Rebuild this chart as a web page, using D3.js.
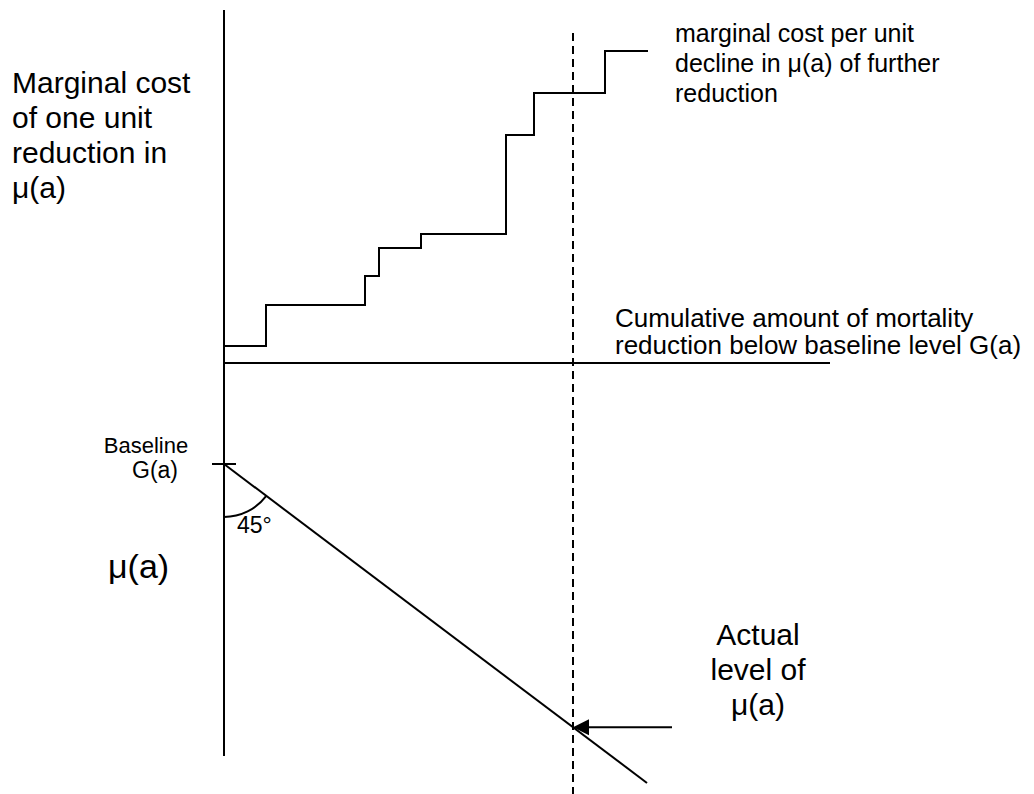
<!DOCTYPE html>
<html>
<head>
<meta charset="utf-8">
<script src="https://cdn.jsdelivr.net/npm/d3@7"></script>
<style>
  body { margin: 0; background: #fff; }
  text { font-family: "Liberation Sans", Arial, sans-serif; fill: #000; }
</style>
</head>
<body>
<div id="chart"></div>
<script>
// Step schedule: cumulative reduction where each step starts, and its marginal cost
var stepStarts = [0, 42, 141, 155, 197, 282, 310, 381];
var stepEnds   = [42, 141, 155, 197, 282, 310, 381, 424];
var stepCosts  = [17, 58, 87, 115, 129, 228, 270, 312];

// Reduction chosen (dashed line) and extent of the lower 45 degree line
var actualReduction = 349;
var diagonalEnd = 423;
var axisEnd = 606;

var leftLabel = ["Marginal cost", "of one unit", "reduction in", "\u03bc(a)"];
var curveLabel = ["marginal cost per unit", "decline in \u03bc(a) of further", "reduction"];
var xLabel = ["Cumulative amount of mortality", "reduction below baseline level G(a)"];
var actualLabel = ["Actual", "level of", "\u03bc(a)"];

const width = 1034, height = 794;

var svg = d3.select("#chart").append("svg")
    .attr("width", width)
    .attr("height", height);

// Scales: same x for both panels
const x = d3.scaleLinear().domain([0, axisEnd]).range([224, 830]);
const yCost = d3.scaleLinear().domain([0, 353]).range([363, 10]);
// lower panel: distance below baseline G(a)
const yMu = d3.scaleLinear().domain([0, diagonalEnd]).range([464, 464 + 0.754 * diagonalEnd]);

// Vertical axis
svg.append("line")
    .attr("x1", x(0)).attr("x2", x(0))
    .attr("y1", yCost(353)).attr("y2", 756)
    .attr("stroke", "#000").attr("stroke-width", 2);

// Horizontal axis (cumulative reduction)
svg.append("line")
    .attr("x1", x(0)).attr("x2", x(axisEnd))
    .attr("y1", yCost(0)).attr("y2", yCost(0))
    .attr("stroke", "#000").attr("stroke-width", 2);

// Step function of marginal cost
var stepPts = [];
stepCosts.forEach(function (c, i) {
    stepPts.push([stepStarts[i], c]);
    stepPts.push([stepEnds[i], c]);
});
svg.append("path")
    .datum(stepPts)
    .attr("fill", "none")
    .attr("stroke", "#000")
    .attr("stroke-width", 2)
    .attr("d", d3.line().x(d => x(d[0])).y(d => yCost(d[1])));

// Dashed line at actual reduction
svg.append("line")
    .attr("x1", x(actualReduction)).attr("x2", x(actualReduction))
    .attr("y1", 33).attr("y2", height)
    .attr("stroke", "#000").attr("stroke-width", 2)
    .attr("stroke-dasharray", "8,5");

// Baseline tick
svg.append("line")
    .attr("x1", x(0) - 12).attr("x2", x(0) + 12)
    .attr("y1", yMu(0)).attr("y2", yMu(0))
    .attr("stroke", "#000").attr("stroke-width", 2);

// 45 degree line
svg.append("line")
    .attr("x1", x(0)).attr("y1", yMu(0))
    .attr("x2", x(diagonalEnd)).attr("y2", yMu(diagonalEnd))
    .attr("stroke", "#000").attr("stroke-width", 2);

// Angle arc
var ang = Math.atan2(yMu(100) - yMu(0), x(100) - x(0));
var r = 53;
svg.append("path")
    .attr("d", "M" + x(0) + "," + (yMu(0) + r) +
        " A" + r + "," + r + " 0 0 0 " + (x(0) + r * Math.cos(ang)) + "," + (yMu(0) + r * Math.sin(ang)))
    .attr("fill", "none")
    .attr("stroke", "#000").attr("stroke-width", 2);

// Arrow pointing at actual level
var ay = yMu(actualReduction);
svg.append("line")
    .attr("x1", 672).attr("x2", x(actualReduction) + 14)
    .attr("y1", ay).attr("y2", ay)
    .attr("stroke", "#000").attr("stroke-width", 2);
svg.append("path")
    .attr("d", "M" + x(actualReduction) + "," + ay + " L" + (x(actualReduction) + 16) + "," + (ay - 8) +
        " L" + (x(actualReduction) + 16) + "," + (ay + 8) + "Z")
    .attr("fill", "#000");

// Text labels
function addLines(lines, tx, ty, dy, size, anchor) {
    svg.selectAll(null)
        .data(lines)
        .enter().append("text")
        .attr("x", tx)
        .attr("y", (d, i) => ty + i * dy)
        .attr("text-anchor", anchor || "start")
        .style("font-size", size + "px")
        .text(d => d);
}

addLines(leftLabel, 12, 93, 35, 30);
addLines(curveLabel, 675, 42, 30, 25);
addLines(xLabel, 615, 327, 27, 26);
addLines(actualLabel, 758, 645, 35, 30, "middle");

svg.append("text").attr("x", 146).attr("y", 453).attr("text-anchor", "middle")
    .style("font-size", "22px").text("Baseline");
svg.append("text").attr("x", 155).attr("y", 478).attr("text-anchor", "middle")
    .style("font-size", "23px").text("G(a)");
svg.append("text").attr("x", 237).attr("y", 533)
    .style("font-size", "23px").text("45\u00b0");
svg.append("text").attr("x", 108).attr("y", 578)
    .style("font-size", "34px").text("\u03bc(a)");
</script>
</body>
</html>
